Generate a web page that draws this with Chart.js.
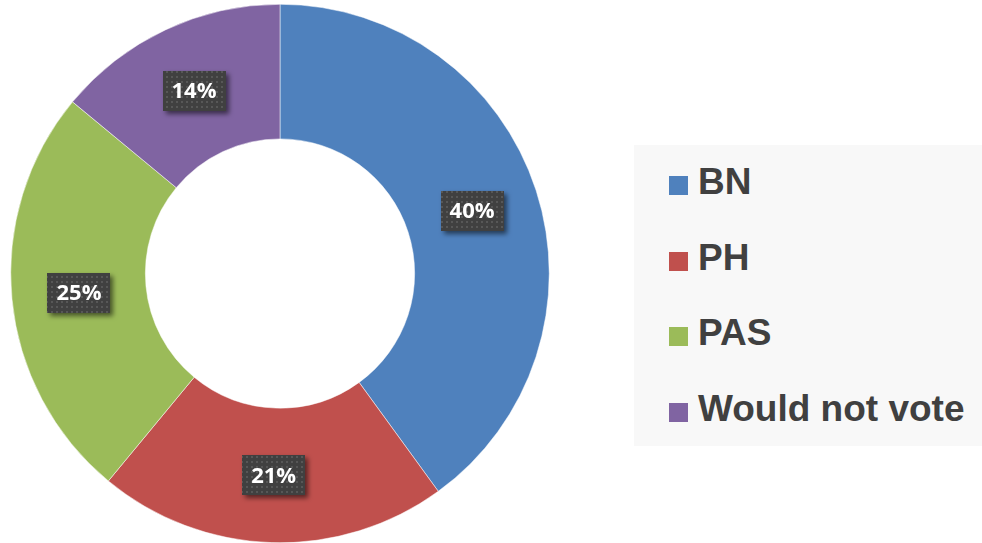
<!DOCTYPE html>
<html>
<head>
<meta charset="utf-8">
<script src="https://cdn.jsdelivr.net/npm/chart.js@4/dist/chart.umd.min.js"></script>
<style>
  html, body { margin: 0; padding: 0; background: #fff; }
  #wrap { position: relative; width: 982px; height: 543px; }
  #legend {
    position: absolute; left: 634px; top: 145px; width: 348px; height: 301px;
    background: #f8f8f8; font-family: "Liberation Sans", Arial, sans-serif;
    font-weight: bold; font-size: 37px; color: #404040;
  }
  .item { position: absolute; left: 35px; height: 40px; line-height: 40px; white-space: nowrap; }
  .item i { display: inline-block; width: 19px; height: 19px; margin-right: 10px; vertical-align: -1px; }
</style>
</head>
<body>
<div id="wrap">
  <canvas id="chart" width="982" height="543"></canvas>
  <div id="legend"></div>
</div>
<script>
const parties = ["BN", "PH", "PAS", "Would not vote"];
const shares = [40, 21, 25, 14];
const colours = ["#4f81bd", "#c0504d", "#9bbb59", "#8064a2"];

// dotted dark fill used behind the percentage labels
function dotPattern(ctx) {
  const c = document.createElement("canvas");
  c.width = 5;
  c.height = 5;
  const p = c.getContext("2d");
  p.fillStyle = "#404040";
  p.fillRect(0, 0, 5, 5);
  p.fillStyle = "#575757";
  p.fillRect(1, 1, 2, 2);
  return ctx.createPattern(c, "repeat");
}

const boxLabels = {
  id: "boxLabels",
  afterDatasetsDraw(chart) {
    const ctx = chart.ctx;
    const meta = chart.getDatasetMeta(0);
    const fill = dotPattern(ctx);
    ctx.save();
    ctx.font = "bold 22px 'Open Sans', sans-serif";
    meta.data.forEach((arc, i) => {
      const pos = arc.tooltipPosition();
      const w = 63, h = 40;
      const x = Math.round(pos.x - w / 2), y = Math.round(pos.y - h / 2);
      ctx.save();
      ctx.shadowColor = "rgba(0,0,0,0.55)";
      ctx.shadowBlur = 5;
      ctx.shadowOffsetX = 3;
      ctx.shadowOffsetY = 3;
      ctx.fillStyle = fill;
      ctx.fillRect(x, y, w, h);
      ctx.restore();
      ctx.fillStyle = "#fff";
      ctx.textAlign = "center";
      ctx.textBaseline = "middle";
      ctx.fillText(shares[i] + "%", pos.x, pos.y + 1);
    });
    ctx.restore();
  }
};

new Chart(document.getElementById("chart"), {
  type: "doughnut",
  data: {
    labels: parties,
    datasets: [
      {
        data: shares,
        backgroundColor: colours,
        borderColor: "#ffffff",
        borderWidth: 0.5
      }
    ]
  },
  options: {
    responsive: false,
    animation: false,
    cutout: "50%",
    layout: {
      padding: { left: 10, right: 432, top: 4, bottom: 0 }
    },
    plugins: {
      legend: { display: false },
      tooltip: { enabled: false }
    }
  },
  plugins: [boxLabels]
});

const legend = document.getElementById("legend");
parties.forEach((name, i) => {
  const row = document.createElement("div");
  row.className = "item";
  row.style.top = (17 + i * 75.5) + "px";
  const sw = document.createElement("i");
  sw.style.background = colours[i];
  row.appendChild(sw);
  row.appendChild(document.createTextNode(name));
  legend.appendChild(row);
});
</script>
</body>
</html>
